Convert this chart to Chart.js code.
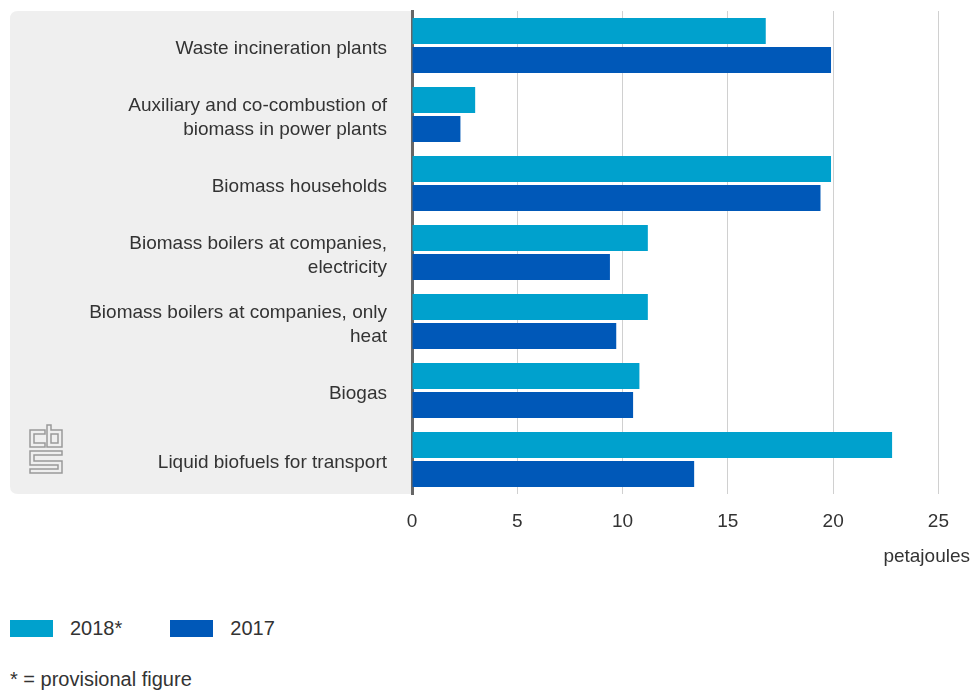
<!DOCTYPE html>
<html>
<head>
<meta charset="utf-8">
<script src="https://cdn.jsdelivr.net/npm/chart.js@4"></script>
<style>
  body { margin: 0; background: #fff; font-family: "Liberation Sans", Arial, sans-serif; color: #333; }
  #wrap { position: relative; width: 973px; height: 580px; }
  .legend { position: absolute; left: 10px; top: 617px; font-size: 20px; white-space: nowrap; }
  .legend span.box { display: inline-block; width: 43px; height: 17px; vertical-align: -2px; margin-right: 17px; }
  .legend span.item { display: inline-block; margin-right: 48px; }
  .note { position: absolute; left: 10px; top: 668px; font-size: 20px; }
</style>
</head>
<body>
<div id="wrap"><canvas id="chart"></canvas></div>
<div class="legend"><span class="item"><span class="box" style="background:#00a1cd"></span>2018*</span><span class="item"><span class="box" style="background:#0058b8"></span>2017</span></div>
<div class="note">* = provisional figure</div>
<script>
// categories (multi-line labels as arrays)
const categories = [
    'Waste incineration plants',
    ['Auxiliary and co-combustion of', 'biomass in power plants'],
    'Biomass households',
    ['Biomass boilers at companies,', 'electricity'],
    ['Biomass boilers at companies, only', 'heat'],
    'Biogas',
    'Liquid biofuels for transport'
];
const values2018 = [16.8, 3.0, 19.9, 11.2, 11.2, 10.8, 22.8];
const values2017 = [19.9, 2.3, 19.4, 9.4, 9.7, 10.5, 13.4];
const xTicks = [0, 5, 10, 15, 20, 25];

// grey panel behind the category labels + logo
const panelPlugin = {
    id: 'panel',
    beforeDraw(chart) {
        const { ctx, chartArea } = chart;
        const x0 = 10, x1 = chartArea.left, y0 = chartArea.top, y1 = chartArea.bottom;
        const r = 8;
        ctx.save();
        ctx.fillStyle = '#efefef';
        ctx.beginPath();
        ctx.moveTo(x0 + r, y0);
        ctx.lineTo(x1, y0);
        ctx.lineTo(x1, y1);
        ctx.lineTo(x0 + r, y1);
        ctx.quadraticCurveTo(x0, y1, x0, y1 - r);
        ctx.lineTo(x0, y0 + r);
        ctx.quadraticCurveTo(x0, y0, x0 + r, y0);
        ctx.fill();

        // cbs logo
        ctx.strokeStyle = '#9a9a9a';
        ctx.lineWidth = 1.5;
        ctx.beginPath();
        ctx.moveTo(45, 430); ctx.lineTo(30, 430); ctx.lineTo(30, 447); ctx.lineTo(45, 447); ctx.lineTo(45, 443);
        ctx.lineTo(34, 443); ctx.lineTo(34, 434); ctx.lineTo(45, 434); ctx.closePath();
        ctx.moveTo(47, 425); ctx.lineTo(47, 447); ctx.lineTo(62, 447); ctx.lineTo(62, 430);
        ctx.lineTo(51, 430); ctx.lineTo(51, 425); ctx.closePath();
        ctx.rect(51, 434, 7, 9);
        ctx.moveTo(62, 451); ctx.lineTo(30, 451); ctx.lineTo(30, 465); ctx.lineTo(58, 465);
        ctx.lineTo(58, 469); ctx.lineTo(30, 469); ctx.lineTo(30, 473); ctx.lineTo(62, 473);
        ctx.lineTo(62, 461); ctx.lineTo(34, 461); ctx.lineTo(34, 455); ctx.lineTo(62, 455); ctx.closePath();
        ctx.stroke();
        ctx.restore();
    }
};

const font = 'Liberation Sans';

new Chart(document.getElementById('chart'), {
    type: 'bar',
    data: {
        labels: categories,
        datasets: [{
            label: '2018*',
            data: values2018,
            backgroundColor: '#00a1cd',
            categoryPercentage: 0.84,
            barPercentage: 0.9
        }, {
            label: '2017',
            data: values2017,
            backgroundColor: '#0058b8',
            categoryPercentage: 0.84,
            barPercentage: 0.9
        }]
    },
    options: {
        indexAxis: 'y',
        responsive: true,
        maintainAspectRatio: false,
        animation: false,
        layout: { padding: { top: 11, left: 10, right: 3, bottom: 0 } },
        plugins: {
            legend: { display: false },
            tooltip: { enabled: false }
        },
        scales: {
            x: {
                min: 0,
                max: 26.5,
                afterBuildTicks(scale) {
                    scale.ticks = xTicks.map(v => ({ value: v }));
                },
                afterFit(scale) {
                    scale.height = 86;
                    scale.paddingLeft = 0;
                    scale.paddingRight = 0;
                },
                grid: { color: '#d0d0d0', lineWidth: 1, drawTicks: false },
                border: { display: false },
                ticks: {
                    padding: 16,
                    color: '#333',
                    font: { family: font, size: 19 }
                },
                title: {
                    display: true,
                    text: 'petajoules',
                    align: 'end',
                    color: '#333',
                    font: { family: font, size: 19 },
                    padding: { top: 6, bottom: 12 }
                }
            },
            y: {
                afterFit(scale) {
                    scale.width = 402;
                    scale.paddingTop = 0;
                    scale.paddingBottom = 0;
                },
                grid: { display: false, drawTicks: false },
                border: { display: true, color: '#666', width: 3 },
                ticks: {
                    padding: 25,
                    labelOffset: 3,
                    color: '#333',
                    font: { family: font, size: 19, lineHeight: '24px' }
                }
            }
        }
    },
    plugins: [panelPlugin]
});
</script>
</body>
</html>
